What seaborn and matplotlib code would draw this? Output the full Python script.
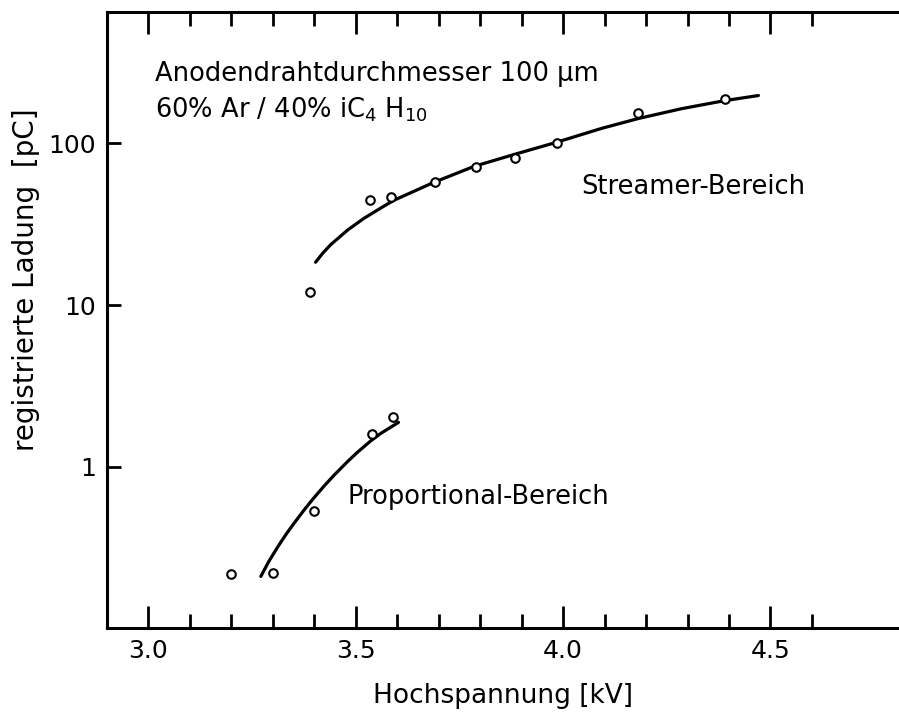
import pandas as pd
import seaborn as sns
import matplotlib.pyplot as plt
from matplotlib.ticker import FixedLocator, NullLocator, NullFormatter

# measured points
streamer_kv = [3.39, 3.535, 3.585, 3.69, 3.79, 3.885, 3.985, 4.18, 4.39]
streamer_pc = [12.0, 44.5, 46.5, 57.5, 72.0, 81.0, 100.0, 155.0, 188.0]
prop_kv = [3.20, 3.30, 3.40, 3.54, 3.59]
prop_pc = [0.215, 0.22, 0.53, 1.6, 2.03]

# hand drawn curves
streamer_fit_kv = [3.403, 3.42, 3.44, 3.481, 3.519, 3.56, 3.592, 3.688, 3.785, 3.882,
                   3.983, 4.092, 4.181, 4.285, 4.389, 4.471]
streamer_fit_pc = [18.4, 20.9, 23.7, 29.2, 34.3, 39.8, 44.5, 57.4, 72.1, 85.5,
                   101.5, 123.8, 142.6, 164.0, 184.0, 198.0]
prop_fit_kv = [3.271, 3.290, 3.311, 3.331, 3.350, 3.374, 3.396, 3.423, 3.447, 3.481,
               3.505, 3.536, 3.560, 3.603]
prop_fit_pc = [0.209, 0.258, 0.316, 0.378, 0.442, 0.533, 0.627, 0.755, 0.881, 1.079,
               1.233, 1.442, 1.603, 1.879]

sns.set_theme(style="ticks")
plt.rcParams['font.family'] = ['DejaVu Sans']
plt.rcParams['mathtext.default'] = 'regular'
plt.rcParams['text.color'] = 'black'
plt.rcParams['axes.labelcolor'] = 'black'
plt.rcParams['xtick.color'] = 'black'
plt.rcParams['ytick.color'] = 'black'

fig = plt.figure(figsize=(8.99, 7.13), dpi=100)
ax = fig.add_axes([0.119, 0.119, 0.881, 0.864])

pts = pd.DataFrame({"kV": streamer_kv + prop_kv, "pC": streamer_pc + prop_pc})
fit_s = pd.DataFrame({"kV": streamer_fit_kv, "pC": streamer_fit_pc})
fit_p = pd.DataFrame({"kV": prop_fit_kv, "pC": prop_fit_pc})

sns.lineplot(data=fit_s, x="kV", y="pC", color="black", lw=2.3, sort=False, estimator=None, ax=ax)
sns.lineplot(data=fit_p, x="kV", y="pC", color="black", lw=2.3, sort=False, estimator=None, ax=ax)
sns.scatterplot(data=pts, x="kV", y="pC", marker="o", s=38, facecolors="white",
                edgecolor="black", linewidth=1.5, zorder=3, ax=ax)

ax.set_yscale("log")
ax.set_xlim(2.9, 4.81)
ax.set_ylim(0.1, 650)

ax.xaxis.set_major_locator(FixedLocator([3.0, 3.5, 4.0, 4.5]))
ax.xaxis.set_minor_locator(FixedLocator([3.1, 3.2, 3.3, 3.4, 3.6, 3.7, 3.8, 3.9, 4.1, 4.2, 4.3, 4.4, 4.6]))
ax.set_xticklabels(["3.0", "3.5", "4.0", "4.5"])
ax.yaxis.set_major_locator(FixedLocator([1, 10, 100]))
ax.yaxis.set_minor_locator(NullLocator())
ax.yaxis.set_minor_formatter(NullFormatter())
ax.set_yticklabels(["1", "10", "100"])

ax.tick_params(axis="x", which="both", direction="in", top=True, bottom=True, width=2, labelsize=18, pad=8)
ax.tick_params(axis="x", which="major", length=16)
ax.tick_params(axis="x", which="minor", length=10)
ax.tick_params(axis="y", which="major", direction="in", length=10, width=2, labelsize=18, pad=8)

for side in ["left", "top", "bottom"]:
    ax.spines[side].set_linewidth(2.2)
    ax.spines[side].set_color("black")
ax.spines["right"].set_visible(False)

ax.set_xlabel("Hochspannung [kV]", fontsize=19, labelpad=14)
ax.set_ylabel("registrierte Ladung  [pC]", fontsize=20)
ax.yaxis.set_label_coords(-0.085, 0.565)

ax.text(3.017, 270, "Anodendrahtdurchmesser 100 µm", fontsize=18.5, va="center")
ax.text(3.017, 162, "60% Ar / 40% iC$_4$ H$_{10}$", fontsize=18.5, va="center")
ax.text(4.043, 53.5, "Streamer-Bereich", fontsize=18.5, va="center")
ax.text(3.481, 0.644, "Proportional-Bereich", fontsize=18.5, va="center")

plt.savefig("out.png", dpi=100)
